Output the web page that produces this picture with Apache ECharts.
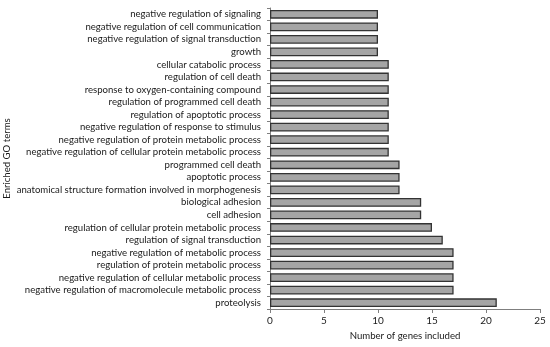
<!DOCTYPE html>
<html><head><meta charset="utf-8">
<script src="https://cdn.jsdelivr.net/npm/echarts@6/dist/echarts.min.js"></script>
<style>html,body{margin:0;padding:0;background:#fff}#c{width:550px;height:347px}</style>
</head><body><div id="c"></div>
<script>
// categories from bottom to top
const categories = [
  "proteolysis",
  "negative regulation of macromolecule metabolic process",
  "negative regulation of cellular metabolic process",
  "regulation of protein metabolic process",
  "negative regulation of metabolic process",
  "regulation of signal transduction",
  "regulation of cellular protein metabolic process",
  "cell adhesion",
  "biological adhesion",
  "anatomical structure formation involved in morphogenesis",
  "apoptotic process",
  "programmed cell death",
  "negative regulation of cellular protein metabolic process",
  "negative regulation of protein metabolic process",
  "negative regulation of response to stimulus",
  "regulation of apoptotic process",
  "regulation of programmed cell death",
  "response to oxygen-containing compound",
  "regulation of cell death",
  "cellular catabolic process",
  "growth",
  "negative regulation of signal transduction",
  "negative regulation of cell communication",
  "negative regulation of signaling"
];
const geneCounts = [21,17,17,17,17,16,15,14,14,12,12,12,11,11,11,11,11,11,11,11,10,10,10,10];
const xTicks = [0,5,10,15,20,25];

const FONT = "Lato";
const FS = 9.6;
const chart = echarts.init(document.getElementById('c'), null, {renderer:'canvas'});
chart.setOption({
  animation:false,
  textStyle:{fontFamily:FONT},
  grid:{left:270, right:10, top:8, bottom:38, containLabel:false, outerBoundsMode:'none'},
  xAxis:{
    type:'value', min:xTicks[0], max:xTicks[xTicks.length-1], interval:5,
    splitLine:{show:false},
    axisLine:{show:true, lineStyle:{color:'#7f7f7f', width:1}},
    axisTick:{show:true, length:4, lineStyle:{color:'#7f7f7f'}},
    axisLabel:{color:'#1a1a1a', fontSize:10, fontFamily:FONT, margin:7},
    name:'Number of genes included', nameLocation:'middle', nameGap:22, nameMoveOverlap:false,
    nameTextStyle:{color:'#1a1a1a', fontSize:FS, fontFamily:FONT}
  },
  yAxis:{
    type:'category', data:categories,
    axisLine:{show:true, lineStyle:{color:'#7f7f7f', width:1}},
    axisTick:{show:true, length:3, lineStyle:{color:'#7f7f7f'}},
    axisLabel:{color:'#1a1a1a', fontSize:FS, fontFamily:FONT, margin:9, interval:0},
    name:'Enriched GO terms', nameLocation:'middle', nameGap:258, nameRotate:90, nameMoveOverlap:false,
    nameTextStyle:{color:'#1a1a1a', fontSize:FS, fontFamily:FONT}
  },
  series:[{
    type:'bar', data:geneCounts, barCategoryGap:'30%',
    itemStyle:{color:'#a5a5a5', borderColor:'#333333', borderWidth:1.3}
  }]
});
</script></body></html>
